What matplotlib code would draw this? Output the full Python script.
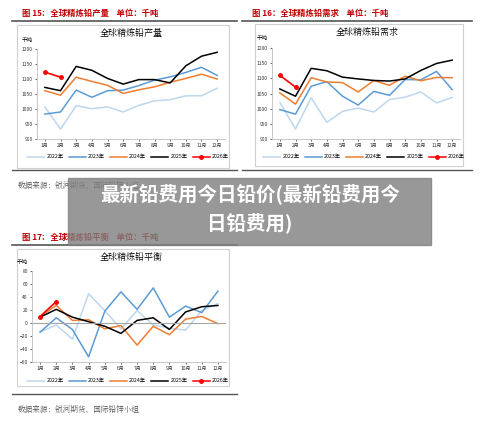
import numpy as np
import matplotlib.pyplot as plt
from matplotlib.patches import Rectangle
from matplotlib.lines import Line2D

plt.rcParams['font.family'] = ['Noto Sans CJK SC', 'DejaVu Sans']

W, H = 500, 424
months = [f"{i}月" for i in range(1, 13)]
years = ["2022年", "2023年", "2024年", "2025年", "2026年"]
colors = ["#bdd7ee", "#5b9bd5", "#ed7d31", "#000000", "#ff0000"]

prod_2022 = [1007, 933, 1011, 1001, 1007, 990, 1012, 1027, 1031, 1044, 1044, 1069]
prod_2023 = [983, 990, 1063, 1039, 1061, 1063, 1078, 1096, 1107, 1122, 1139, 1112]
prod_2024 = [1061, 1046, 1106, 1092, 1079, 1052, 1064, 1074, 1089, 1102, 1116, 1100]
prod_2025 = [1072, 1061, 1142, 1129, 1102, 1083, 1098, 1098, 1087, 1144, 1176, 1189]
prod_2026 = [1123, 1106]

dem_2022 = [1021, 933, 1036, 955, 991, 1002, 989, 1030, 1038, 1055, 1019, 1037]
dem_2023 = [997, 982, 1074, 1089, 1041, 1012, 1057, 1044, 1096, 1095, 1123, 1063]
dem_2024 = [1052, 1015, 1102, 1088, 1086, 1055, 1093, 1077, 1107, 1092, 1103, 1102]
dem_2025 = [1065, 1041, 1133, 1125, 1104, 1098, 1093, 1091, 1098, 1126, 1149, 1160]
dem_2026 = [1110, 1071]

bal_2022 = [-14, -3, -25, 45, 19, -9, 19, -3, -8, -11, 19, 30]
bal_2023 = [-14, 8, -10, -52, 18, 48, 21, 54, 9, 26, 16, 49]
bal_2024 = [10, 27, 4, 5, -9, -4, -34, -5, -18, 6, 10, -1]
bal_2025 = [9, 21, 9, 2, -5, -16, 4, 8, -10, 17, 25, 27]
bal_2026 = [10, 33]

fig = plt.figure(figsize=(5, 4.24), dpi=100)
fig.patch.set_facecolor("white")
bg = fig.add_axes([0, 0, 1, 1])
bg.set_xlim(0, W)
bg.set_ylim(H, 0)
bg.axis("off")


def fr(x0, y0, x1, y1):
    return [x0 / W, 1 - y1 / H, (x1 - x0) / W, (y1 - y0) / H]


def panel(fig_title, sub, x0, x1, ytop, series, box, plot, ylim, yticks, legend_y, bottom, zero=False):
    bg.text(x0, ytop, fig_title, color="#c00000", fontsize=6, fontweight="bold", va="center")
    bg.plot([x0 - 10, x1], [ytop + 8, ytop + 8], color="#555555", lw=1.2)
    bg.plot([x0 - 10, x1], [bottom, bottom], color="#555555", lw=1.0)
    bx0, by0, bx1, by1 = box
    bg.add_patch(Rectangle((bx0, by0), bx1 - bx0, by1 - by0, fill=False, ec="#d0d0d0", lw=0.8))
    bg.text((bx0 + bx1) / 2 + 8, by0 + 8, sub, fontsize=6.5, ha="center", va="center",
            family=['Noto Serif CJK SC', 'Noto Sans CJK SC'])
    ax = fig.add_axes(fr(*plot))
    x = np.arange(1, 13)
    for i, s in enumerate(series):
        if i == 4:
            ax.plot(x[:len(s)], s, color=colors[i], lw=1.2, marker="o", ms=2.5)
        else:
            ax.plot(x[:len(s)], s, color=colors[i], lw=1.1)
    ax.set_xlim(0.5, 12.5)
    ax.set_ylim(*ylim)
    ax.set_yticks(yticks)
    ax.set_xticks(x)
    ax.set_xticklabels(months)
    ax.tick_params(labelsize=3.5, length=1.5, width=0.5, pad=1.5, colors="#333333")
    for sp in ["top", "right"]:
        ax.spines[sp].set_visible(False)
    for sp in ["left", "bottom"]:
        ax.spines[sp].set_color("#bfbfbf")
        ax.spines[sp].set_linewidth(0.6)
    if zero:
        ax.axhline(0, color="#a6a6a6", lw=0.8)
    ax.set_facecolor("none")
    bg.text(plot[0] - 15, plot[1] - 9, "千吨", fontsize=4, va="center")
    handles = [Line2D([], [], color=colors[i], lw=1.1, marker="o" if i == 4 else None, ms=2.5)
               for i in range(5)]
    fig.legend(handles, years, loc="center", bbox_to_anchor=((bx0 + bx1) / 2 / W + 0.01, 1 - legend_y / H),
               ncol=5, frameon=False, fontsize=3.8, handlelength=3.2, columnspacing=1.0, handletextpad=0.4)


panel("图 15:   全球精炼铅产量    单位：千吨", "全球精炼铅产量", 22, 237, 13,
      [prod_2022, prod_2023, prod_2024, prod_2025, prod_2026],
      (17, 25, 229, 168), (37, 49, 225, 139), (900, 1200), range(900, 1201, 50), 157, 170)
panel("图 16：全球精炼铅需求    单位：千吨", "全球精炼铅需求", 252, 472, 13,
      [dem_2022, dem_2023, dem_2024, dem_2025, dem_2026],
      (255, 24, 463, 166), (272, 48, 460, 139), (900, 1200), range(900, 1201, 50), 157, 170)
panel("图 17:   全球精炼铅平衡    单位：千吨", "全球精炼铅平衡", 22, 237, 237,
      [bal_2022, bal_2023, bal_2024, bal_2025, bal_2026],
      (17, 249, 229, 386), (32, 271, 226, 362), (-60, 80), range(-60, 81, 20), 381, 394, zero=True)

bg.text(18, 186, "数据来源：银河期货，国际铅锌小组", fontsize=5.5, color="#555555", va="center",
        family=['Noto Serif CJK SC', 'Noto Sans CJK SC'])
bg.text(18, 410, "数据来源：银河期货，国际铅锌小组", fontsize=5.5, color="#555555", va="center",
        family=['Noto Serif CJK SC', 'Noto Sans CJK SC'])

bg.add_patch(Rectangle((68, 178), 363, 67, color="#7f7f7f", alpha=0.8, zorder=5))
bg.text(250, 194, "最新铅费用今日铅价(最新铅费用今", fontsize=14, color="white", fontweight="bold",
        ha="center", va="center", zorder=6)
bg.text(250, 223, "日铅费用)", fontsize=14, color="white", fontweight="bold",
        ha="center", va="center", zorder=6)

fig.savefig("out.png", dpi=100)
